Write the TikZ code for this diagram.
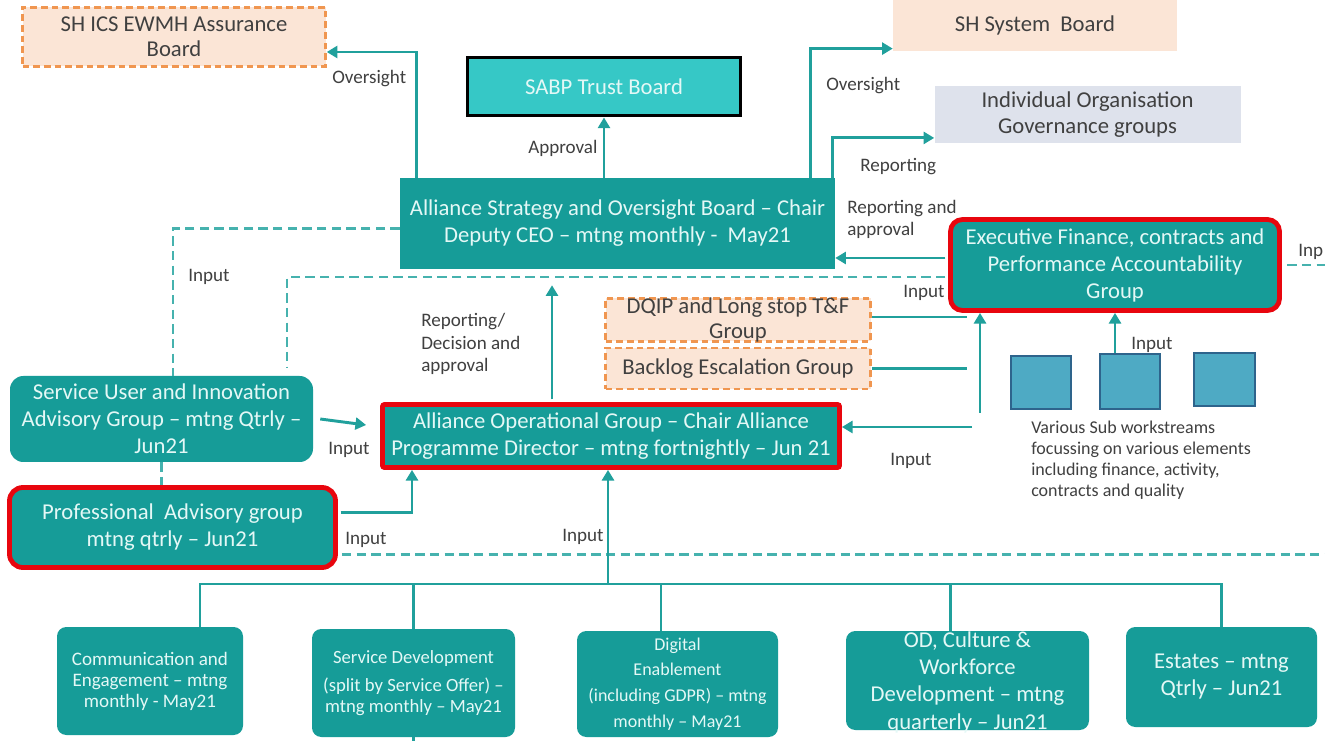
\documentclass[tikz,border=0pt]{standalone}
\usepackage{fontspec}
\setmainfont{Carlito}
\usetikzlibrary{arrows.meta,calc}
\definecolor{tealbox}{RGB}{22,156,152}
\definecolor{boxtxt}{RGB}{228,248,246}
\definecolor{tline}{RGB}{32,160,156}
\definecolor{tdash}{RGB}{70,178,174}
\definecolor{redb}{RGB}{232,6,14}
\definecolor{orng}{RGB}{240,150,80}
\definecolor{peach}{RGB}{251,229,214}
\definecolor{greyb}{RGB}{222,226,236}
\definecolor{sabpc}{RGB}{54,200,198}
\definecolor{sqfill}{RGB}{78,170,196}
\definecolor{sqline}{RGB}{46,100,140}
\definecolor{lbl}{RGB}{64,64,64}
\newcommand\fsz[2]{\fontsize{#1pt}{#2pt}\selectfont}
\begin{document}
\begin{tikzpicture}[x=0.75pt,y=-0.75pt,
 sz/.style 2 args={minimum width={#1*0.75pt},minimum height={#2*0.75pt}},
 tbox/.style={fill=tealbox,text=boxtxt,align=center,inner sep=0pt,font=\fsz{17}{20.25}},
 redbox/.style={tbox,draw=redb,line width=3.6pt},
 peachd/.style={fill=peach,draw=orng,line width=1.9pt,dash pattern=on 5pt off 3pt,inner sep=0pt,align=center,text=lbl,font=\fsz{17}{18.75}},
 plain/.style={inner sep=0pt,align=center,text=lbl,font=\fsz{17}{19.5}},
 sq/.style={fill=sqfill,draw=sqline,line width=1pt,inner sep=0pt},
 bbox/.style={tbox,rounded corners=7pt},
 conn/.style={draw=tline,line width=2.2pt},
 arr/.style={conn,-{Triangle[length=8pt,width=9pt]}},
 dsh/.style={draw=tdash,line width=2.2pt,dash pattern=on 7pt off 4pt},
 lab/.style={text=lbl,font=\fsz{14.3}{16.5},inner sep=0pt,anchor=west,align=left},
]
\useasboundingbox (0,0) rectangle (1325,741);
\fill[white] (0,0) rectangle (1325,741);

% top boards
\node[peachd, sz={303}{59}] (ics) at (174,37) {SH ICS EWMH Assurance\\Board};
\node[plain, fill=peach, sz={284}{52}] (shs) at (1035,25) {SH System\ \ Board};
\node[draw=black, line width=2.25pt, fill=sabpc, text=boxtxt, inner sep=0pt, font=\fsz{17}{20}, sz={273}{58}] (sabp) at (604,87) {SABP Trust Board};
\node[plain, fill=greyb, sz={306}{57}] (ind) at (1087.5,114.5) {Individual Organisation\\Governance groups};

% main groups
\node[tbox, sz={435}{91}] (asob) at (617.5,223.5) {Alliance Strategy and Oversight Board – Chair\\Deputy CEO – mtng monthly -\ \ May21};
\node[redbox, rounded corners=9pt, sz={329}{91}] (exec) at (1115,265) {Executive Finance, contracts and\\Performance Accountability\\Group};
\node[peachd, sz={265}{43}] (dqip) at (738,320) {};
\node[plain, font=\fsz{17}{18.75}] (dqipT) at (738,320) {DQIP and Long stop T\&F\\Group};
\node[peachd, sz={265}{41}] (back) at (738,368.5) {Backlog Escalation Group};
\node[tbox, rounded corners=10pt, sz={303}{86}] (suag) at (161.5,419) {Service User and Innovation\\Advisory Group – mtng Qtrly –\\Jun21};
\node[redbox, rounded corners=10pt, sz={326}{80}] (pag) at (172.5,527.5) {Professional\ \ Advisory group\\mtng qtrly – Jun21};
\node[redbox, rounded corners=1.5pt, sz={457}{63}] (aog) at (611,436) {Alliance Operational Group – Chair Alliance\\Programme Director – mtng fortnightly – Jun 21};

% sub workstreams
\node[sq, sz={60}{53}] (s1) at (1041,382.5) {};
\node[sq, sz={60}{55}] (s2) at (1130,381.5) {};
\node[sq, sz={61}{53}] (s3) at (1224.5,379.5) {};
\node[anchor=north west, text=lbl, font=\fsz{13.5}{15.75}, align=left, inner sep=0pt] (subt) at (1031,421) {Various Sub workstreams\\focussing on various elements\\including finance, activity,\\contracts and quality};

% bottom workstreams
\node[bbox, sz={186}{108}, font=\fsz{14.3}{15.75}] (comm) at (150,681) {Communication and\\Engagement – mtng\\monthly - May21};
\node[bbox, sz={203}{108}, font=\fsz{14}{15.75}] (sdev) at (413.5,683) {Service Development\\[5pt](split by Service Offer) –\\mtng monthly – May21};
\node[bbox, sz={201}{106}, font=\fsz{13.5}{19.3}] (dig) at (677.5,684) {Digital\\Enablement\\(including GDPR) – mtng\\monthly – May21};
\node[bbox, sz={243}{99}] (od) at (967.5,680.5) {};
\node[inner sep=0pt, align=center, text=boxtxt, font=\fsz{17}{20.5}] (odT) at (967.5,682) {OD, Culture \&\\Workforce\\Development – mtng\\quarterly – Jun21};
\node[bbox, sz={191}{100}] (est) at (1221.5,677) {Estates – mtng\\Qtrly – Jun21};

% connectors top
\draw[arr] ([xshift=12.75pt]asob.north west) |- ([yshift=-11.25pt]ics.east);
\draw[arr] (asob.north -| sabp.south) -- (sabp.south);
\draw[arr] ([xshift=-18.75pt]asob.north east) |- ([yshift=2pt]shs.south west);
\draw[arr] ([xshift=-2.25pt]asob.north east) |- ([yshift=4pt]ind.south west);
\coordinate (e1) at ([yshift=5.25pt]exec.west);
\draw[arr, shorten <=2pt] (e1) -- (e1 -| asob.east);

% dashed lines
\coordinate (e2) at ([yshift=-9pt]exec.west);
\coordinate (d1) at ([xshift=94.1pt,yshift=6.75pt]suag.north);
\draw[dsh, shorten <=2pt] (e2) -| (d1);
\coordinate (d2) at ([xshift=8.6pt]suag.north);
\draw[dsh] ([yshift=-3.75pt]asob.west) -| (d2);
\coordinate (redge) at (1325,265);
\draw[dsh, shorten <=4pt] (exec.east) -- (redge);
\draw[dsh] (suag.south) -- (suag.south |- pag.north);
\coordinate (p2) at ([yshift=-19.9pt]pag.east);
\coordinate (redge2) at (p2 -| redge);
\draw[dsh, shorten <=3pt] (p2) -- (redge2);

% inputs to AOG
\draw[arr] ([xshift=5.25pt]suag.east) -- ([xshift=-10.5pt,yshift=8.25pt]aog.west);
\coordinate (p1) at ([yshift=10.9pt]pag.east);
\coordinate (a1) at ([xshift=-149.25pt]aog.south);
\draw[arr, shorten <=2pt] (p1) -| (a1);

% tree
\coordinate (busy) at (0,584);
\coordinate (bottomy) at (0,741);
\coordinate (c1) at ([xshift=37.5pt]comm.north);
\coordinate (c3) at ([xshift=-12.4pt]dig.north);
\coordinate (c4) at ([xshift=-13.1pt]od.north);
\coordinate (a4) at ([xshift=-2.25pt]aog.south);
\draw[conn, line join=miter] (c1) -- (c1 |- busy) -- (est.north |- busy) -- (est.north);
\draw[conn] (sdev.north) -- (sdev.north |- busy);
\draw[conn] (sdev.south) -- (sdev.south |- bottomy);
\draw[conn] (c3) -- (c3 |- busy);
\draw[conn] (c4) -- (c4 |- busy);
\draw[arr] (a4 |- busy) -- (a4);

% AOG -> ASOB
\coordinate (a2) at ([xshift=-44.25pt]aog.north);
\coordinate (a3) at (a2 |- asob.south);
\draw[arr, shorten <=2pt] (a2) -- ([yshift=-12pt]a3);

% right side
\coordinate (vy) at (0,413);
\coordinate (v1) at ([xshift=-101.25pt]exec.south);
\draw[arr] (v1 |- vy) -- (v1);
\coordinate (q1) at ([xshift=-9.75pt]v1);
\coordinate (q2) at ([yshift=2.25pt]dqip.east);
\draw[conn] (q2) -- (q2 -| q1);
\draw[conn] (back.east) -- (back.east -| q1);
\coordinate (r1) at ([yshift=6.75pt]aog.east);
\coordinate (q3) at ([xshift=-6pt]v1);
\draw[arr] (r1 -| q3) -- (r1);
\draw[arr] (exec.south |- s2.north) -- (exec.south);

% labels
\node[lab] (l1) at (332,79) {Oversight};
\node[lab] (l2) at (528,148) {Approval};
\node[lab] (l3) at (826,86) {Oversight};
\node[lab] (l4) at (860,167) {Reporting};
\node[lab] (l5) at (847,219) {Reporting and\\approval};
\node[lab] (l6) at (188,277) {Input};
\node[lab, font=\fsz{14.3}{16.9}] (l7) at (421,344) {Reporting/\\Decision and\\approval};
\node[lab] (l8) at (328,450) {Input};
\node[lab] (l9) at (345,540) {Input};
\node[lab] (l10) at (562,537) {Input};
\node[lab] (l11) at (903,293) {Input};
\node[lab] (l12) at (890,461) {Input};
\node[lab] (l13) at (1131,345) {Input};
\node[lab] (l14) at (1298,252) {Inp};
\end{tikzpicture}
\end{document}
